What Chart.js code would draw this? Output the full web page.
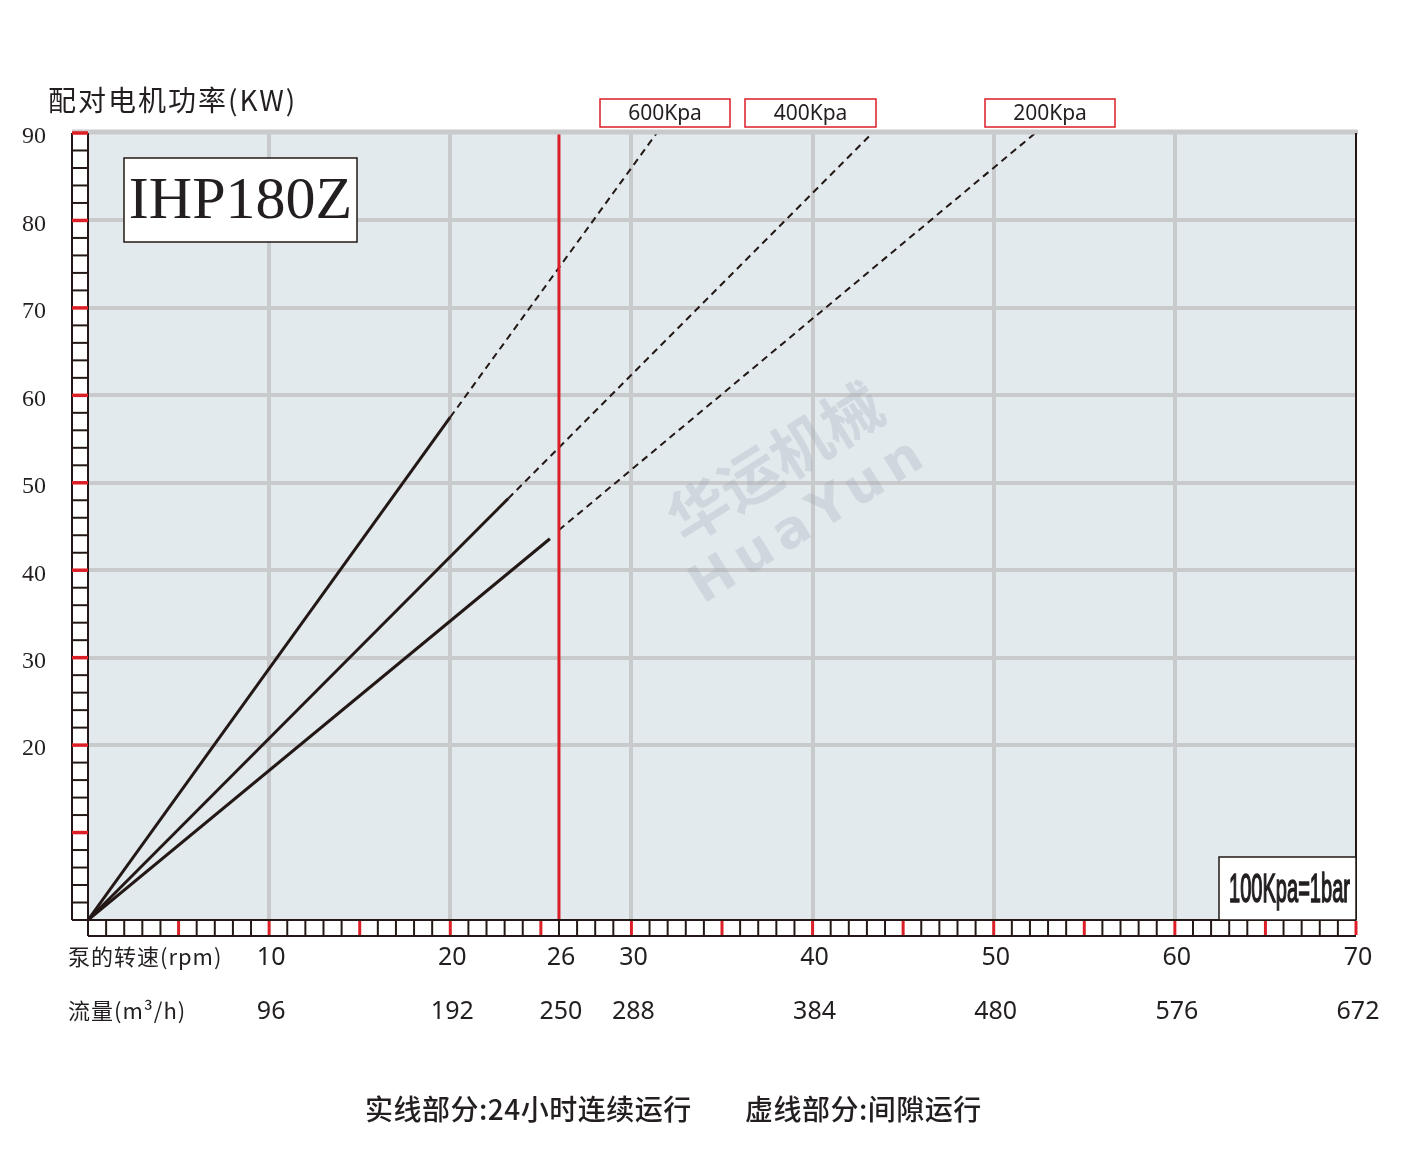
<!DOCTYPE html>
<html>
<head>
<meta charset="utf-8">
<script src="https://cdn.jsdelivr.net/npm/chart.js@4.4.0/dist/chart.umd.min.js"></script>
<style>
    html, body { margin: 0; padding: 0; background: #fff; }
</style>
</head>
<body>
<canvas id="pumpChart" width="1404" height="1154"></canvas>
<script>
// pump speed ticks (x axis) and matching flow labels
var speedTicks = [10, 20, 26, 30, 40, 50, 60, 70];
var flowLabels = ["96", "192", "250", "288", "384", "480", "576", "672"];
var powerTicks = [20, 30, 40, 50, 60, 70, 80, 90];
var pressureNames = ["600Kpa", "400Kpa", "200Kpa"];
var ratedSpeed = 26;

// [speed, power] points
var solid600 = [[0, 0], [20.0, 57.5]];
var dashed600 = [[20.0, 57.5], [31.4, 90]];
var solid400 = [[0, 0], [23.2, 48.2]];
var dashed400 = [[23.2, 48.2], [43.3, 90]];
var solid200 = [[0, 0], [25.5, 43.6]];
var dashed200 = [[26.0, 44.6], [52.3, 90]];

var ink = "#231815";
var gridGray = "#c9cacb";
var red = "#dc1e26";

function pts(arr) {
    return arr.map(function (p) { return { x: p[0], y: p[1] }; });
}

function lineSet(label, data, dashed) {
    return {
        label: label,
        data: pts(data),
        showLine: true,
        borderColor: ink,
        borderWidth: dashed ? 2 : 3,
        borderDash: dashed ? [7, 5] : [],
        pointRadius: 0,
        fill: false,
    };
}

function boxText(ctx, text, x0, y0, x1, y1, border, font) {
    ctx.fillStyle = "#fff";
    ctx.fillRect(x0, y0, x1 - x0, y1 - y0);
    ctx.strokeStyle = border;
    ctx.lineWidth = 1.5;
    ctx.strokeRect(x0, y0, x1 - x0, y1 - y0);
    ctx.fillStyle = "#231f20";
    ctx.font = font;
    ctx.textAlign = "center";
    ctx.textBaseline = "middle";
    ctx.fillText(text, (x0 + x1) / 2, (y0 + y1) / 2 + 1);
}

function hLine(ctx, x0, x1, y) {
    ctx.beginPath(); ctx.moveTo(x0, y); ctx.lineTo(x1, y); ctx.stroke();
}
function vLine(ctx, x, y0, y1) {
    ctx.beginPath(); ctx.moveTo(x, y0); ctx.lineTo(x, y1); ctx.stroke();
}

var extras = {
    id: "extras",
    beforeDraw: function (chart) {
        var ctx = chart.ctx, a = chart.chartArea;
        ctx.save();
        ctx.fillStyle = "#fff";
        ctx.fillRect(0, 0, chart.width, chart.height);
        ctx.fillStyle = "#e2eaee";
        ctx.fillRect(a.left, a.top, a.right - a.left, a.bottom - a.top);
        ctx.restore();
    },
    beforeDatasetsDraw: function (chart) {
        // faint watermark
        var ctx = chart.ctx;
        ctx.save();
        ctx.fillStyle = "rgba(150,160,175,0.25)";
        ctx.translate(775, 462);
        ctx.rotate(-32 * Math.PI / 180);
        ctx.font = "bold 60px 'Noto Sans CJK SC'";
        ctx.textAlign = "center";
        ctx.textBaseline = "middle";
        ctx.fillText("华运机械", 0, 0);
        ctx.restore();
        ctx.save();
        ctx.fillStyle = "rgba(150,160,175,0.25)";
        ctx.translate(811, 521);
        ctx.rotate(-32 * Math.PI / 180);
        ctx.font = "bold 52px 'DejaVu Sans'";
        ctx.letterSpacing = "8px";
        ctx.textAlign = "center";
        ctx.textBaseline = "middle";
        ctx.fillText("HuaYun", 0, 0);
        ctx.restore();
    },
    afterDatasetsDraw: function (chart) {
        // rated speed marker line on top of the grid
        var ctx = chart.ctx, a = chart.chartArea;
        var px = chart.scales.x.getPixelForValue(ratedSpeed);
        ctx.save();
        ctx.strokeStyle = red;
        ctx.lineWidth = 3;
        vLine(ctx, px, a.top, a.bottom);
        ctx.restore();
    },
    afterDraw: function (chart) {
        var ctx = chart.ctx, a = chart.chartArea;
        var xs = chart.scales.x, ys = chart.scales.y;
        var rw = 16, rl = a.left - rw, rb = a.bottom + rw;
        var v, p;
        ctx.save();

        // top border
        ctx.strokeStyle = gridGray;
        ctx.lineWidth = 5;
        hLine(ctx, rl, a.right + 2, a.top - 1);

        // rulers
        ctx.fillStyle = "#fff";
        ctx.fillRect(rl, a.top, rw, a.bottom - a.top);
        ctx.fillRect(a.left, a.bottom, a.right - a.left, rw);
        ctx.strokeStyle = ink;
        ctx.lineWidth = 2;
        for (v = 2; v < 90; v += 2) {
            if (v % 10 === 0) continue;
            p = ys.getPixelForValue(v);
            hLine(ctx, rl, a.left, p);
        }
        for (v = 1; v < 70; v++) {
            if (v % 5 === 0) continue;
            p = xs.getPixelForValue(v);
            vLine(ctx, p, a.bottom, rb);
        }
        hLine(ctx, rl, a.right, a.bottom);
        hLine(ctx, a.left, a.right, rb);
        vLine(ctx, rl, a.top, a.bottom);
        vLine(ctx, a.left, a.top, rb);
        vLine(ctx, a.right, a.top, a.bottom);

        ctx.strokeStyle = red;
        ctx.lineWidth = 3.5;
        for (v = 10; v <= 90; v += 10) {
            p = ys.getPixelForValue(v);
            hLine(ctx, rl, a.left, p);
        }
        ctx.lineWidth = 3;
        for (v = 5; v <= 70; v += 5) {
            p = xs.getPixelForValue(v);
            vLine(ctx, p, a.bottom + 1, rb - 1);
        }

        // pressure labels above the curves
        boxText(ctx, pressureNames[0], 600, 99, 730, 127, red, "21px 'Noto Sans'");
        boxText(ctx, pressureNames[1], 745, 99, 876, 127, red, "21px 'Noto Sans'");
        boxText(ctx, pressureNames[2], 985, 99, 1115, 127, red, "21px 'Noto Sans'");

        // model box
        ctx.fillStyle = "#fff";
        ctx.fillRect(124, 158, 233, 84);
        ctx.strokeStyle = ink;
        ctx.lineWidth = 1.5;
        ctx.strokeRect(124, 158, 233, 84);
        ctx.fillStyle = "#231f20";
        ctx.font = "60px 'Liberation Serif'";
        ctx.textAlign = "center";
        ctx.textBaseline = "middle";
        ctx.fillText("IHP180Z", 240.5, 202);

        // unit note box (condensed text)
        ctx.fillStyle = "#fff";
        ctx.fillRect(1219, 857, a.right - 1219, a.bottom - 857);
        ctx.strokeStyle = ink;
        ctx.lineWidth = 1.5;
        ctx.strokeRect(1219, 857, a.right - 1219, a.bottom - 857);
        ctx.font = "40px 'Liberation Sans'";
        var note = "100Kpa=1bar";
        var w = ctx.measureText(note).width;
        ctx.save();
        ctx.translate(1289.5, 891);
        ctx.scale(121 / w, 1);
        ctx.fillStyle = "#231f20";
        ctx.strokeStyle = "#231f20";
        ctx.lineWidth = 1.6;
        ctx.textAlign = "center";
        ctx.textBaseline = "middle";
        ctx.fillText(note, 0, 0);
        ctx.strokeText(note, 0, 0);
        ctx.restore();

        // titles and captions
        ctx.fillStyle = "#231f20";
        ctx.textAlign = "left";
        ctx.textBaseline = "middle";
        ctx.font = "28px 'Noto Sans CJK SC'";
        ctx.letterSpacing = "2px";
        ctx.fillText("配对电机功率(KW)", 48, 100);
        ctx.letterSpacing = "1px";
        ctx.font = "22px 'Noto Sans CJK SC'";
        ctx.fillText("泵的转速(rpm)", 68, 957);
        ctx.fillText("流量(m³/h)", 68, 1011);
        ctx.letterSpacing = "0.5px";
        ctx.font = "500 28px 'Noto Sans CJK SC'";
        ctx.fillText("实线部分:24小时连续运行", 365, 1109);
        ctx.fillText("虚线部分:间隙运行", 745, 1109);
        ctx.restore();
    },
};

new Chart("pumpChart", {
    type: "scatter",
    data: {
        datasets: [
            lineSet(pressureNames[0], solid600, false),
            lineSet(pressureNames[0], dashed600, true),
            lineSet(pressureNames[1], solid400, false),
            lineSet(pressureNames[1], dashed400, true),
            lineSet(pressureNames[2], solid200, false),
            lineSet(pressureNames[2], dashed200, true),
        ],
    },
    options: {
        responsive: false,
        animation: false,
        devicePixelRatio: 1,
        layout: { padding: { top: 133, right: 48, left: 0, bottom: 0 } },
        plugins: {
            legend: { display: false },
            tooltip: { enabled: false },
        },
        scales: {
            x: {
                type: "linear",
                min: 0,
                max: 70,
                afterFit: function (s) { s.height = 234; },
                afterBuildTicks: function (s) {
                    s.ticks = speedTicks.map(function (v) { return { value: v }; });
                },
                border: { display: false },
                grid: {
                    drawTicks: false,
                    color: function (c) {
                        var v = c.tick && c.tick.value;
                        if (v === ratedSpeed || v === 70) return "rgba(0,0,0,0)";
                        return gridGray;
                    },
                    lineWidth: 4,
                },
                ticks: {
                    autoSkip: false,
                    maxRotation: 0,
                    padding: 11,
                    labelOffset: 2,
                    color: "#231f20",
                    font: { family: "'Noto Sans'", size: 25, lineHeight: 2.16 },
                    callback: function (value, index) {
                        return [String(value), flowLabels[index]];
                    },
                },
            },
            y: {
                type: "linear",
                min: 0,
                max: 90,
                afterFit: function (s) { s.width = 88; },
                afterBuildTicks: function (s) {
                    s.ticks = powerTicks.map(function (v) { return { value: v }; });
                },
                border: { display: false },
                grid: {
                    drawTicks: false,
                    lineWidth: 4,
                    color: function (c) {
                        return c.tick && c.tick.value === 90 ? "rgba(0,0,0,0)" : gridGray;
                    },
                },
                ticks: {
                    padding: 42,
                    labelOffset: 4,
                    color: "#231f20",
                    font: { family: "'Liberation Serif'", size: 24 },
                },
            },
        },
    },
    plugins: [extras],
});
</script>
</body>
</html>
